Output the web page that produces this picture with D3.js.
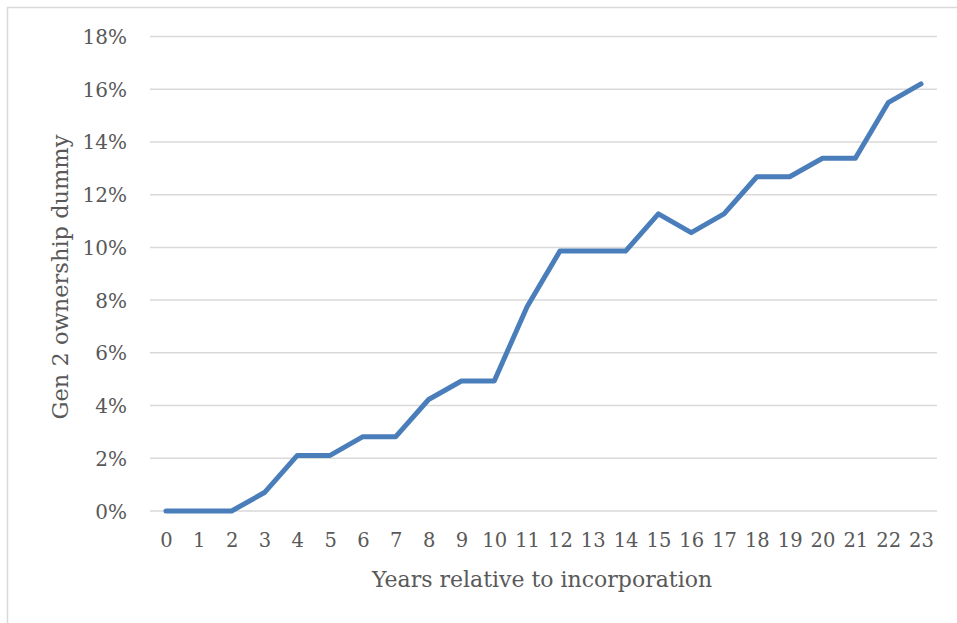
<!DOCTYPE html>
<html>
<head>
<meta charset="utf-8">
<script src="https://cdn.jsdelivr.net/npm/d3@7"></script>
<style>
  html, body { margin: 0; padding: 0; background: #fff; }
  svg { display: block; }
  text { font-family: "DejaVu Serif", "Liberation Serif", serif; fill: #595959; }
</style>
</head>
<body>
<svg id="chart" width="957" height="623"></svg>
<script>
const years = [0,1,2,3,4,5,6,7,8,9,10,11,12,13,14,15,16,17,18,19,20,21,22,23];
const share = [0, 0, 0, 0.0070, 0.0211, 0.0211, 0.0282, 0.0282, 0.0423, 0.0493, 0.0493, 0.0775,
               0.0986, 0.0986, 0.0986, 0.1127, 0.1056, 0.1127, 0.1268, 0.1268, 0.1338, 0.1338, 0.1549, 0.1620];
const yTicks = [0, 0.02, 0.04, 0.06, 0.08, 0.10, 0.12, 0.14, 0.16, 0.18];
const xTitle = "Years relative to incorporation";
const yTitle = "Gen 2 ownership dummy";

const svg = d3.select("#chart");

// outer chart border
svg.append("rect")
  .attr("x", 7.5).attr("y", 7.5)
  .attr("width", 1000).attr("height", 1000)
  .attr("fill", "none").attr("stroke", "#d9d9d9").attr("stroke-width", 1.5);

const plot = { left: 150, right: 937, top: 36.5, bottom: 511 };

const x = d3.scalePoint()
  .domain(years)
  .range([166, 921]);

const y = d3.scaleLinear()
  .domain([0, 0.18])
  .range([plot.bottom, plot.top]);

// gridlines
svg.append("g")
  .selectAll("line")
  .data(yTicks)
  .join("line")
  .attr("x1", plot.left).attr("x2", plot.right)
  .attr("y1", d => y(d)).attr("y2", d => y(d))
  .attr("stroke", "#d9d9d9").attr("stroke-width", 1.5);

// y axis labels
const yAxis = d3.axisLeft(y)
  .tickValues(yTicks)
  .tickFormat(d3.format(".0%"))
  .tickSize(0)
  .tickPadding(0);
const gy = svg.append("g")
  .attr("transform", `translate(127,0)`)
  .call(yAxis);
gy.select(".domain").remove();
gy.selectAll("text")
  .attr("fill", "#595959")
  .style("font-family", '"DejaVu Serif", serif')
  .style("font-size", "20px")
  .attr("dy", "0.35em");

// x axis labels
const xAxis = d3.axisBottom(x)
  .tickSize(0)
  .tickPadding(0);
const gx = svg.append("g")
  .attr("transform", `translate(0,${plot.bottom})`)
  .call(xAxis);
gx.select(".domain").remove();
gx.selectAll("text")
  .attr("fill", "#595959")
  .style("font-family", '"DejaVu Serif", serif')
  .style("font-size", "19.5px")
  .attr("y", 36)
  .attr("dy", "0");

// line
const line = d3.line()
  .x((d, i) => x(years[i]))
  .y(d => y(d));
svg.append("path")
  .datum(share)
  .attr("d", line)
  .attr("fill", "none")
  .attr("stroke", "#4a7ebb")
  .attr("stroke-width", 5)
  .attr("stroke-linejoin", "round")
  .attr("stroke-linecap", "round");

// axis titles
svg.append("text")
  .attr("x", 542).attr("y", 587)
  .attr("text-anchor", "middle")
  .style("font-size", "22px")
  .text(xTitle);

svg.append("text")
  .attr("transform", "translate(68,277) rotate(-90)")
  .attr("text-anchor", "middle")
  .style("font-size", "22.5px")
  .text(yTitle);
</script>
</body>
</html>
